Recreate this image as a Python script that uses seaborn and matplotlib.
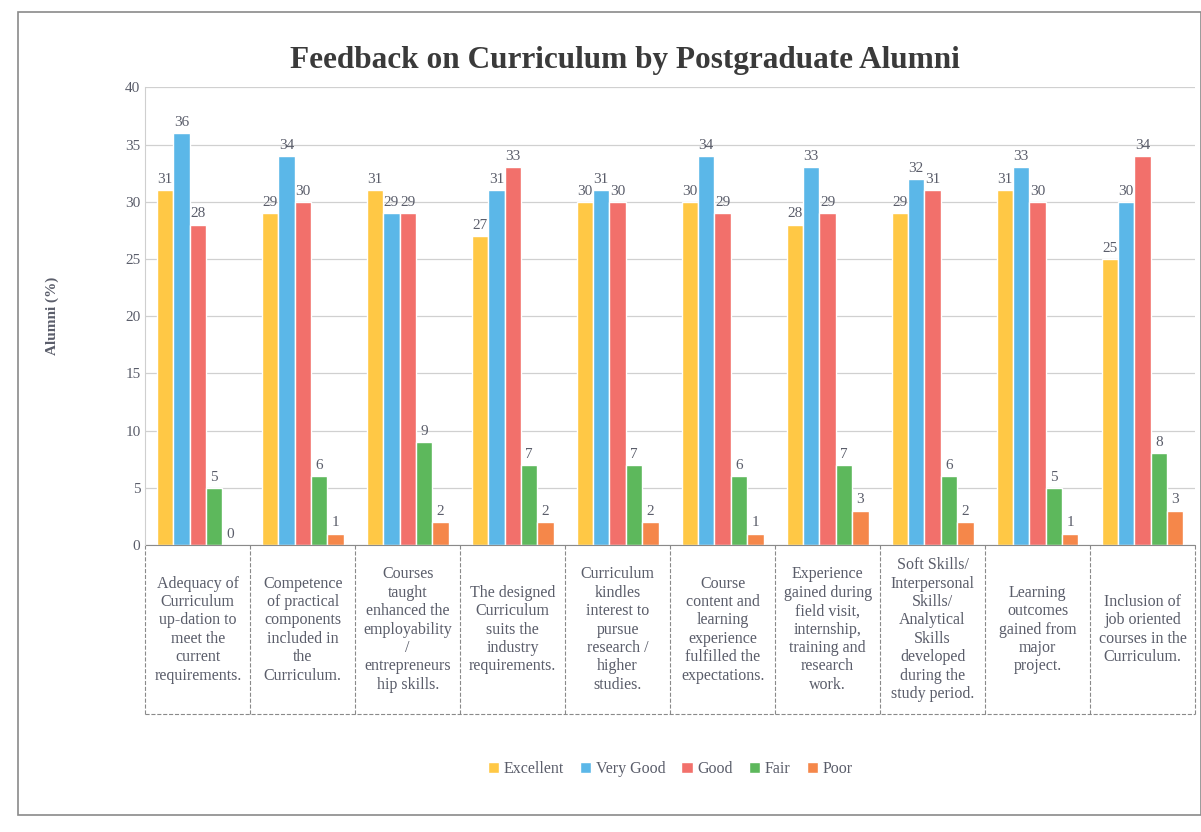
import matplotlib
matplotlib.use("Agg")
import matplotlib.pyplot as plt
from matplotlib.patches import Rectangle
import numpy as np
import pandas as pd
import seaborn as sns

# category labels (as wrapped in the boxes under the axis)
categories = [
    "Adequacy of\nCurriculum\nup-dation to\nmeet the\ncurrent\nrequirements.",
    "Competence\nof practical\ncomponents\nincluded in\nthe\nCurriculum.",
    "Courses\ntaught\nenhanced the\nemployability\n/\nentrepreneurs\nhip skills.",
    "The designed\nCurriculum\nsuits the\nindustry\nrequirements.",
    "Curriculum\nkindles\ninterest to\npursue\nresearch /\nhigher\nstudies.",
    "Course\ncontent and\nlearning\nexperience\nfulfilled the\nexpectations.",
    "Experience\ngained during\nfield visit,\ninternship,\ntraining and\nresearch\nwork.",
    "Soft Skills/\nInterpersonal\nSkills/\nAnalytical\nSkills\ndeveloped\nduring the\nstudy period.",
    "Learning\noutcomes\ngained from\nmajor\nproject.",
    "Inclusion of\njob oriented\ncourses in the\nCurriculum.",
]
excellent = [31, 29, 31, 27, 30, 30, 28, 29, 31, 25]
very_good = [36, 34, 29, 31, 31, 34, 33, 32, 33, 30]
good = [28, 30, 29, 33, 30, 29, 29, 31, 30, 34]
fair = [5, 6, 9, 7, 7, 6, 7, 6, 5, 8]
poor = [0, 1, 2, 2, 2, 1, 3, 2, 1, 3]
series = ["Excellent", "Very Good", "Good", "Fair", "Poor"]
colors = ["#FFC845", "#5BB7E8", "#F2706B", "#5DB85C", "#F5874A"]

rows = []
for name, vals in zip(series, [excellent, very_good, good, fair, poor]):
    for i, v in enumerate(vals):
        rows.append({"category": i, "rating": name, "value": v})
df = pd.DataFrame(rows)

sns.set_style("white")
plt.rcParams["font.family"] = ["Liberation Serif", "DejaVu Serif"]
txt = "#5a5d6a"

fig = plt.figure(figsize=(12.01, 8.32), dpi=100)
ax = fig.add_axes([0.121, 0.345, 0.874, 0.55])

sns.barplot(data=df, x="category", y="value", hue="rating", hue_order=series,
            palette=colors, width=0.78, saturation=1, ax=ax, legend=True)

for cont in ax.containers:
    ax.bar_label(cont, fmt="%d", padding=3, fontsize=11, color=txt)

ax.set_ylim(0, 40)
ax.set_yticks(np.arange(0, 41, 5))
ax.set_xlim(-0.5, len(categories) - 0.5)
ax.yaxis.grid(True, color="#d0d0d0", lw=0.9)
ax.set_axisbelow(True)
for s in ["top", "right"]:
    ax.spines[s].set_visible(False)
ax.spines["left"].set_color("#cfcfcf")
ax.spines["bottom"].set_visible(False)
ax.tick_params(axis="y", labelsize=11, colors=txt, length=0)

ax.set_xticks(range(len(categories)))
ax.set_xticklabels(categories, fontsize=11.5, color=txt, linespacing=1.2)
ax.tick_params(axis="x", length=0, pad=61)
for lab in ax.get_xticklabels():
    lab.set_va("center")
ax.set_xlabel("")
ax.set_ylabel("Alumni (%)", fontsize=11, color=txt, fontweight="bold", labelpad=48)

# dashed boxes around the category labels
tr = ax.get_xaxis_transform()
box_bottom = -0.37
for i in range(len(categories) + 1):
    ax.plot([i - 0.5, i - 0.5], [0, box_bottom], transform=tr, clip_on=False,
            ls="--", lw=0.8, color="#8a8a8a")
ax.plot([-0.5, len(categories) - 0.5], [box_bottom, box_bottom], transform=tr,
        clip_on=False, ls="--", lw=0.8, color="#8a8a8a")
ax.plot([-0.5, len(categories) - 0.5], [0, 0], transform=tr,
        clip_on=False, ls="-", lw=0.8, color="#8a8a8a")

ax.legend(loc="center", bbox_to_anchor=(0.5, -0.49), ncol=5, frameon=False,
          fontsize=11.5, handlelength=0.7, handleheight=0.7, handletextpad=0.3,
          columnspacing=1.0, labelcolor=txt)

fig.suptitle("Feedback on Curriculum by Postgraduate Alumni", x=0.52, y=0.945,
             fontsize=22.5, fontweight="bold", color="#3a3a3a")

fig.add_artist(Rectangle((0.015, 0.02), 0.985, 0.965, transform=fig.transFigure,
                         fill=False, lw=1.2, ec="#8a8a8a"))

fig.savefig("out.png", dpi=100)
